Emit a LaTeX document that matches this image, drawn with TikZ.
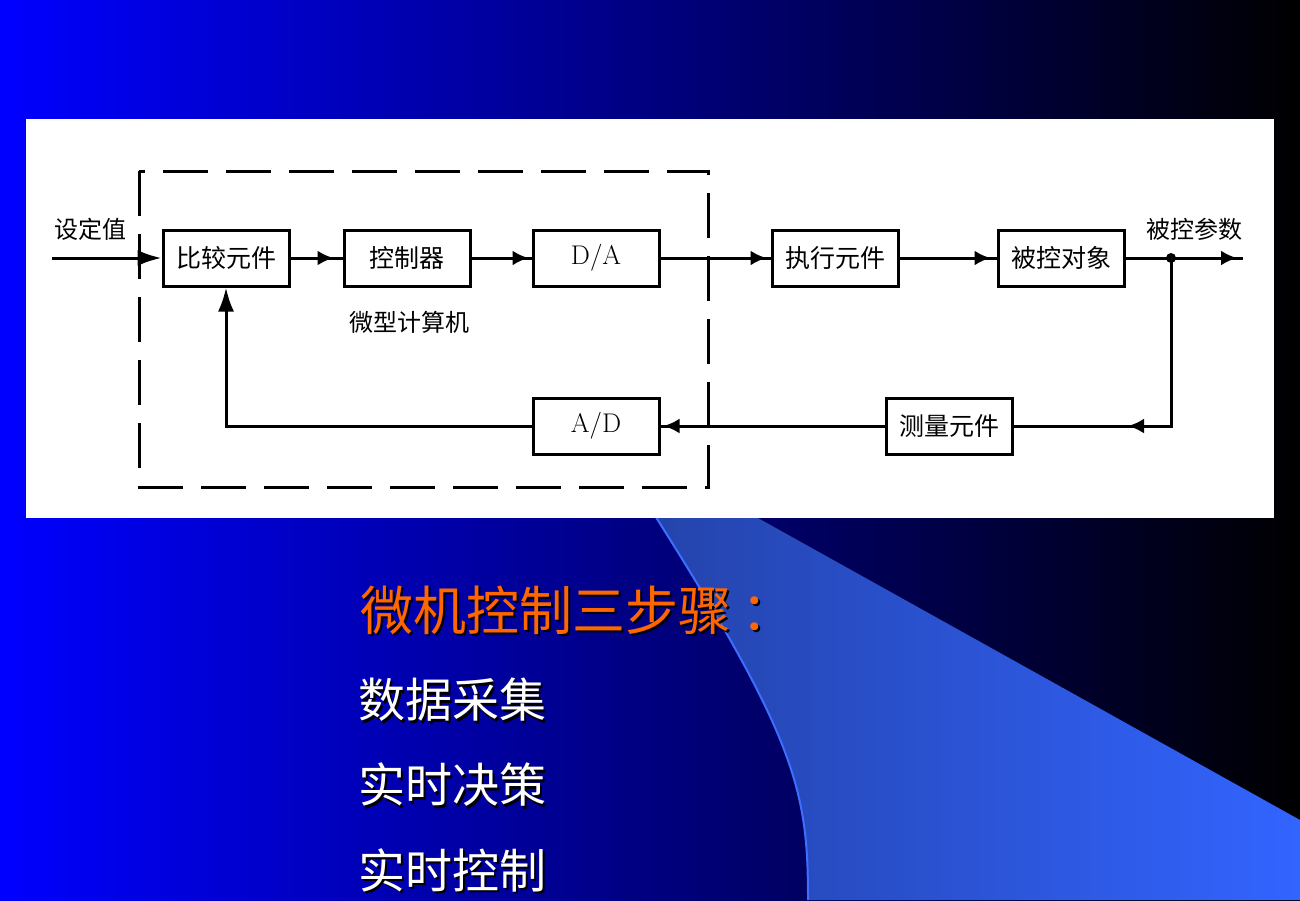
\documentclass[tikz,border=0pt]{standalone}
\usepackage{fontspec}
\usetikzlibrary{arrows.meta}
\usetikzlibrary{decorations.markings}
\newfontfamily\zh{Noto Sans CJK SC}
\definecolor{bgblue}{RGB}{0,0,255}
\definecolor{wedgeL}{RGB}{35,65,165}
\definecolor{wedgeR}{RGB}{50,100,255}
\definecolor{wedgeE}{RGB}{60,110,255}
\definecolor{ttlorange}{RGB}{255,102,0}
\tikzset{
  blk/.style={draw, line width=3pt, minimum width=126pt, minimum height=56pt, inner sep=0pt, font=\zh\fontsize{25}{25}\selectfont},
  lbl/.style={font=\zh\fontsize{24}{24}\selectfont},
  sig/.style={line width=3pt},
  blob/.tip={Latex[length=16pt,width=15pt]},
  bigtip/.tip={Latex[length=24pt,width=16pt]},
  mk/.style={postaction={decorate}, decoration={markings, mark=at position #1 with {\arrow{blob}}}},
}
\newcommand{\slidetext}[6]{\node[anchor=west, inner sep=0pt, text=black, font=\zh\fontsize{#4}{#4}\selectfont] (#1s) at (#2+2.5,#3+2.5) {#6}; \node[anchor=west, inner sep=0pt, text=#5, font=\zh\fontsize{#4}{#4}\selectfont] (#1) at (#2,#3) {#6};}

\begin{document}
\begin{tikzpicture}[x=1pt, y=-1pt]
        \useasboundingbox (0,0) rectangle (1300,900);
        % background
        \fill[left color=bgblue, right color=black] (0,0) rectangle (1300,900);
        \fill[left color=wedgeL, right color=wedgeR] (600,430) -- (1300,820) -- (1300,900) -- (808,900) .. controls (808,780) and (795,730) .. (600,430) -- cycle;
        \draw[wedgeE, line width=2pt] (808,900) .. controls (808,780) and (795,730) .. (600,430);
        \fill[white] (26,119) rectangle (1274,518);
        % computer
        \draw[line width=3pt, dash pattern=on 45pt off 18pt] (139,171) rectangle (708,487);
        \node[lbl] (mcu) at (409,322) {微型计算机};
        % blocks
        \node[blk] (cmp) at (226,258) {比较元件};
        \node[blk] (ctl) at (407,258) {控制器};
        \node[blk, font=\rmfamily\fontsize{27}{27}\selectfont] (da) at (596,258) {D/A};
        \node[blk] (act) at (835,258) {执行元件};
        \node[blk] (obj) at (1061,258) {被控对象};
        \node[blk, font=\rmfamily\fontsize{27}{27}\selectfont] (ad) at (596,426) {A/D};
        \node[blk] (meas) at (949,426) {测量元件};
        \node[lbl] (setv) at (90,229) {设定值};
        \node[lbl] (outv) at (1194,229) {被控参数};
        % signals
        \coordinate (in) at (52,258);
        \coordinate (out) at (1243,258);
        \coordinate (j) at (1171,258);
        \coordinate (jd) at (1171,426);
        \draw[sig, -bigtip] (in) -- (cmp);
        \draw[sig, mk=-9pt] (cmp) -- (ctl);
        \draw[sig, mk=-3pt] (ctl) -- (da);
        \draw[sig, mk=-4pt] (da) -- (act);
        \draw[sig, mk=-6pt] (act) -- (obj);
        \draw[sig, mk=-6pt] (obj) -- (out);
        \fill (j) circle (5pt);
        \draw[sig, mk=211pt] (j) -- (jd) -- (meas);
        \draw[sig, mk=-3pt] (meas) -- (ad);
        \draw[sig, -bigtip] (ad) -| (cmp);
        % steps
        \slidetext{ttl}{360}{610}{53}{ttlorange}{微机控制三步骤\hspace{10pt}：}
        \slidetext{sa}{358}{700}{47}{white}{数据采集}
        \slidetext{sb}{358}{785}{47}{white}{实时决策}
        \slidetext{sc}{358}{870}{47}{white}{实时控制}
    \end{tikzpicture}
\end{document}
